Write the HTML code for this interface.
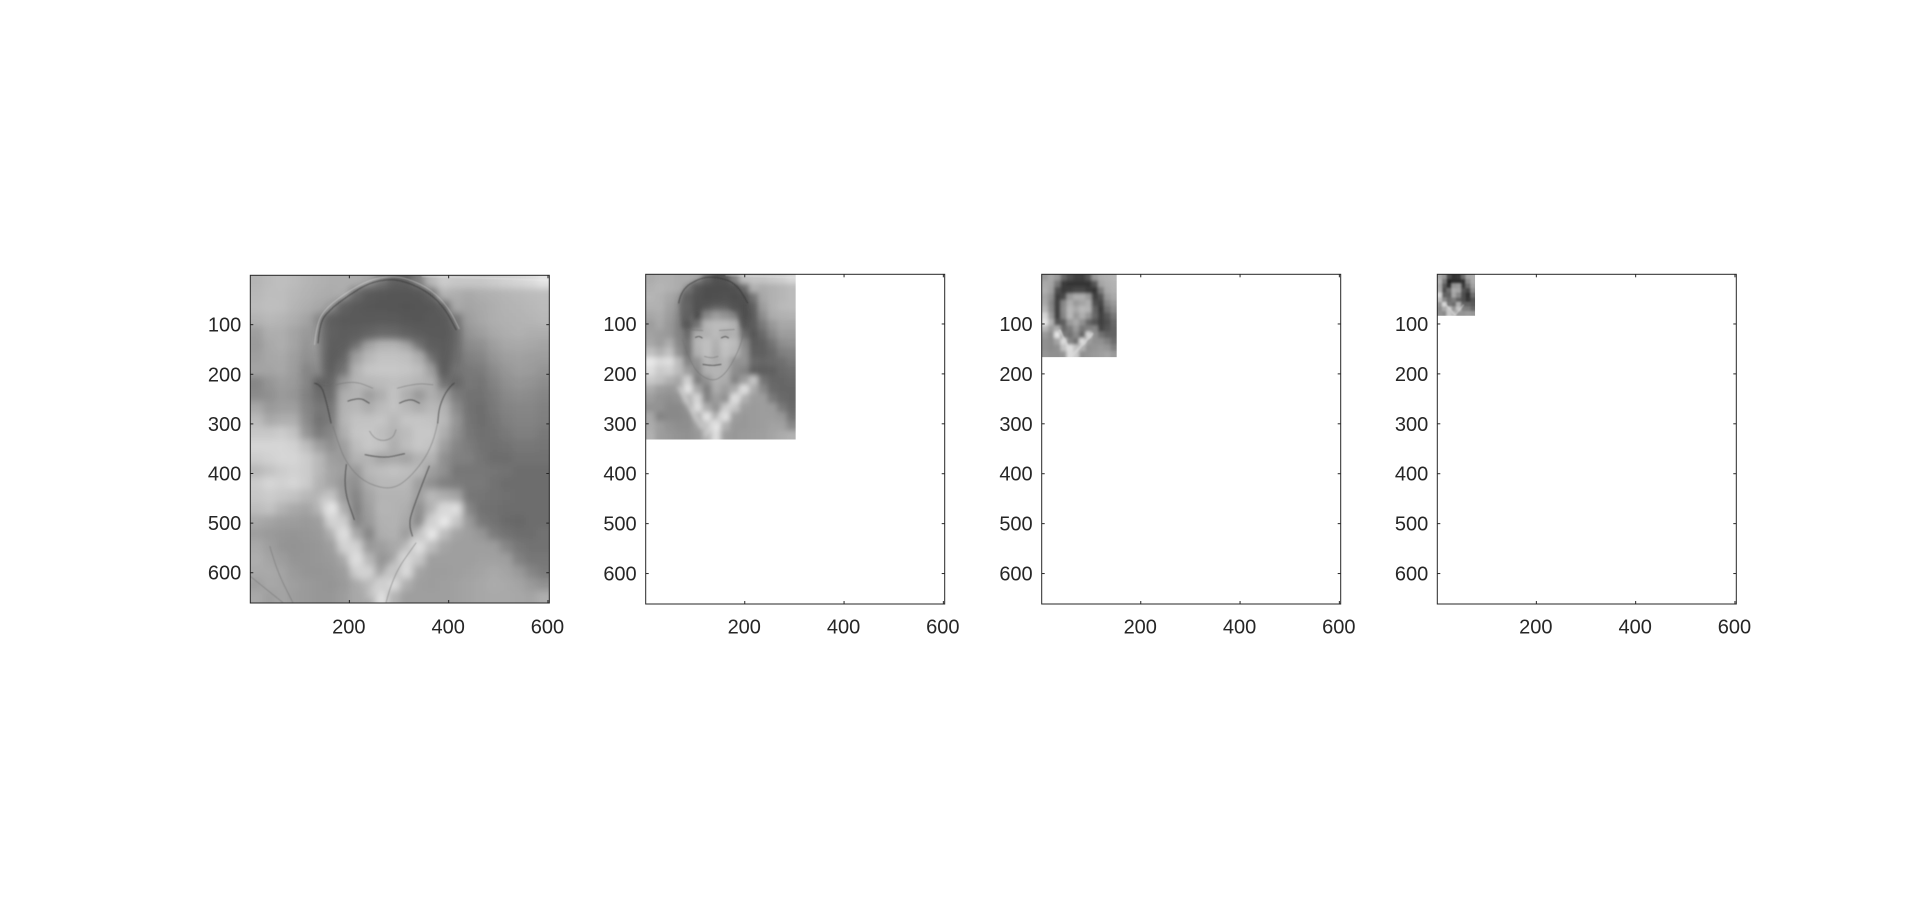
<!DOCTYPE html>
<html lang="en">
<head>
<meta charset="utf-8">
<title>Image pyramid levels</title>
<style>
html,body{margin:0;padding:0;background:#fff;width:1920px;height:911px;overflow:hidden}
svg{display:block}
text{font-family:"Liberation Sans",sans-serif;font-size:20px;fill:#262626}
</style>
</head>
<body>
<svg id="figure" width="1920" height="911" viewBox="0 0 1920 911" xmlns="http://www.w3.org/2000/svg"></svg>
<script>
// Axis tick values (shared by all panels)
const xTicks = [200, 400, 600];
const yTicks = [100, 200, 300, 400, 500, 600];
const xLimit = 602.7;
const yLimit = 661;
// Image size in data units for each pyramid level
const imageWidths = [603, 302, 151, 76];
const imageHeights = [661, 331, 166, 83];

// Gray levels (rows top to bottom)
const grayLevel1 = [
[172,178,182,178,172,168,165,165,165,160,130,95,90,120,175,195,190,190,190,195,200,205,210,220],
[175,180,180,175,170,165,162,165,115,85,80,78,78,80,100,170,165,160,165,168,172,175,178,180],
[178,182,180,172,165,158,150,100,85,80,78,75,72,75,80,95,160,155,160,165,170,172,175,178],
[170,175,172,165,155,130,95,88,85,85,88,85,80,78,82,85,110,150,158,165,168,170,172,175],
[150,165,165,155,145,140,100,92,95,105,118,115,100,90,85,85,100,140,150,160,165,168,165,165],
[145,160,165,155,140,150,95,95,115,155,170,172,160,125,95,90,100,130,135,150,158,160,158,155],
[150,158,160,150,135,140,90,95,150,175,185,185,182,165,120,90,100,120,125,140,150,152,150,148],
[155,155,158,148,125,130,90,105,170,188,190,190,188,180,150,90,105,112,115,130,142,148,146,140],
[125,140,150,145,125,90,95,145,172,175,178,182,178,172,165,105,95,110,108,122,135,140,138,132],
[130,135,145,140,120,100,100,165,170,150,165,185,165,145,165,150,115,105,105,115,128,132,130,125],
[160,145,150,150,125,110,110,170,175,165,178,185,175,165,175,170,130,105,100,112,122,125,125,120],
[178,160,165,165,130,105,115,172,185,185,188,175,188,188,185,175,140,108,100,108,118,122,122,118],
[190,190,195,185,140,115,125,165,188,190,180,170,178,190,190,165,135,110,102,105,112,118,118,112],
[205,205,205,200,180,150,135,150,180,190,185,165,180,190,185,150,125,115,105,102,105,110,110,108],
[195,200,205,205,195,175,150,145,170,170,155,160,155,170,170,135,120,118,108,100,100,105,105,105],
[175,185,195,200,195,175,155,150,145,175,180,185,180,175,150,135,110,110,110,108,105,100,100,100],
[195,205,200,205,195,170,155,140,135,165,175,175,175,150,135,120,115,112,112,105,100,100,100,100],
[190,195,190,185,175,170,185,145,125,155,170,170,170,150,175,165,155,110,108,105,102,100,100,100],
[180,185,170,160,155,170,225,165,120,150,172,170,165,135,170,205,215,125,105,102,100,100,100,100],
[160,155,150,148,145,150,195,195,125,145,168,170,160,130,190,225,190,145,112,105,98,95,100,100],
[150,145,142,140,142,145,165,215,160,125,165,168,150,165,225,180,155,150,140,115,105,100,100,105],
[160,150,140,138,140,142,150,195,200,145,150,160,165,215,180,155,150,150,150,148,125,110,105,105],
[165,155,148,140,140,142,145,160,215,175,140,150,205,190,150,150,150,150,152,152,150,120,110,110],
[160,160,155,145,140,140,142,148,190,200,150,175,210,155,148,148,150,152,155,160,155,145,125,115],
[150,158,155,150,145,142,140,145,160,175,190,210,165,150,148,150,152,155,158,162,160,155,145,135],
[160,150,155,148,145,142,142,148,160,155,215,170,150,150,150,150,152,155,158,160,160,158,155,165]
];
const grayLevel2 = [
[165,170,170,165,165,160,110,75,80,125,185,190,190,195,200,210],
[170,175,170,165,150,90,70,70,70,75,100,170,165,170,175,180],
[175,170,160,150,110,80,70,72,75,70,75,110,160,170,175,180],
[170,170,155,140,115,75,85,95,95,80,70,90,150,170,178,180],
[160,165,150,130,110,70,130,150,140,125,70,85,135,165,170,172],
[150,160,145,125,85,110,175,180,180,170,80,85,115,145,160,160],
[155,150,145,125,100,165,170,180,165,170,100,80,100,130,150,150],
[160,150,165,130,110,175,185,170,188,180,130,85,90,110,135,140],
[185,170,185,140,110,170,185,165,185,175,140,90,90,100,120,125],
[225,210,215,180,125,140,175,165,175,140,140,100,95,100,105,115],
[215,195,200,180,150,130,170,175,170,135,125,90,88,90,100,105],
[195,185,170,160,200,120,140,170,165,125,150,190,110,95,95,100],
[165,150,145,150,220,160,120,165,150,165,215,165,130,100,95,95],
[150,140,135,140,170,205,125,150,140,215,170,150,150,115,100,95],
[140,140,130,130,140,215,165,140,190,190,150,148,150,148,115,100],
[160,125,130,130,135,165,220,170,220,150,145,148,150,150,145,110],
[165,150,140,135,135,150,190,225,170,145,145,148,150,155,155,130],
[170,150,145,140,138,145,170,215,150,145,148,150,152,158,165,170]
];
const grayLevel3 = [
[150,165,150,100,75,60,60,85,150,170,175,180],
[165,160,115,55,50,50,50,50,80,160,170,175],
[170,155,75,55,60,70,70,55,50,120,165,172],
[160,140,60,70,150,170,170,150,60,80,150,165],
[165,130,60,130,170,150,160,170,75,65,130,150],
[180,135,60,135,180,165,180,175,95,55,110,135],
[210,150,60,130,180,150,170,145,100,60,85,115],
[225,175,80,90,150,165,140,100,80,60,75,100],
[180,150,170,100,120,150,115,125,130,65,80,95],
[150,135,225,120,110,135,100,210,140,110,95,95],
[140,135,160,215,130,110,215,155,140,140,125,105],
[140,135,140,190,220,190,175,140,145,150,145,125],
[145,140,140,145,215,200,140,145,150,155,160,150]
];
const grayLevel4 = [
[170,150,75,50,55,110,165,175],
[180,120,40,45,45,50,140,170],
[170,90,50,150,155,60,110,160],
[175,80,110,170,165,85,70,140],
[215,100,100,165,135,80,50,110],
[190,140,110,125,100,80,55,85],
[150,215,120,110,175,100,100,90],
[140,170,200,150,195,130,125,105],
[145,140,200,185,150,150,155,150]
];
const grayLevels = [grayLevel1, grayLevel2, grayLevel3, grayLevel4];

// Hair regions traced in image data coordinates
const hairRegion1 = [[137,137],[140,97],[160,70],[200,40],[240,16],[280,8],[314,13],[362,36],[394,70],[415,110],[411,143],[398,201],[389,218],[378,184],[361,160],[334,137],[294,127],[247,127],[207,140],[177,164],[160,197],[153,221],[143,184]];
const hairRegion2 = [[67,58],[72,31],[109,8],[142,5],[182,18],[206,58],[201,108],[192,108],[186,80],[165,62],[120,62],[92,80],[84,110],[72,108]];
const hairRegions = [hairRegion1, hairRegion2, [], []];

// Contours traced in image data coordinates, level 1
const darkLines1 = [
[[137,137],[140,97],[160,70],[200,40],[240,16],[280,8],[314,13],[362,36],[394,70],[415,110]],
[[130,218],[143,221],[153,252],[163,298]],
[[411,218],[398,228],[381,265],[378,298]],
[[194,382],[187,426],[210,493]],
[[361,385],[324,479],[321,506],[327,526]],
[[197,254],[220,246],[240,258]],
[[301,258],[321,248],[341,258]],
[[232,362],[267,370],[311,360]]
];
const softLines1 = [
[[167,305],[177,338],[194,379],[227,416],[274,432],[307,422],[347,379],[368,338],[378,298]],
[[173,221],[207,212],[247,228]],
[[297,228],[334,218],[368,221]],
[[241,315],[248,328],[268,335],[288,328],[294,312]],
[[40,547],[53,594],[86,660]],
[[0,607],[66,660]],
[[274,660],[287,607],[334,540]]
];
const brightLines1 = [
[[347,3],[480,6],[600,11]],
[[130,140],[134,97],[155,64],[198,33],[240,10],[282,2],[318,7],[366,30],[400,66],[421,108]]
];
// Wide pale collar bands, level by level
const collarBands1 = [[[147,453],[174,506],[227,607]], [[394,469],[334,533],[274,607],[240,647]]];
const collarBands2 = [[[69,228],[90,268],[112,305]], [[199,231],[160,275],[122,321]]];
const collarBands3 = [[[37,113],[48,137],[61,160]], [[102,120],[82,142],[61,164]]];
const collarBands4 = [[[18,62],[27,72],[36,82]], [[53,62],[45,72],[36,82]]];
const collarBandSets = [collarBands1, collarBands2, collarBands3, collarBands4];
// Contours traced in image data coordinates, level 2
const darkLines2 = [
[[67,58],[72,31],[109,8],[142,5],[182,18],[206,58]],
[[101,127],[107,124],[114,128]],
[[153,128],[160,124],[167,128]],
[[116,181],[134,184],[152,181]]
];
const softLines2 = [
[[75,131],[92,188],[132,217],[162,201],[189,151],[197,121]],
[[85,111],[115,113]],
[[149,113],[179,111]],
[[119,165],[132,169],[146,165]]
];
const brightLines2 = [
[[162,3],[300,7]]
];
const darkLineSets = [darkLines1, darkLines2, [], []];
const softLineSets = [softLines1, softLines2, [], []];
const brightLineSets = [brightLines1, brightLines2, [], []];

const panelLefts = [250.3, 645.7, 1041.7, 1437.3];
const panelTops = [275.3, 274.3, 274.3, 274.3];
const panelBottoms = [603, 604, 604, 604];
const panelWidth = 299;

const SVGNS = 'http://www.w3.org/2000/svg';
const figure = document.getElementById('figure');
function make(tag, attrs, parent) {
  const el = document.createElementNS(SVGNS, tag);
  for (const k in attrs) el.setAttribute(k, attrs[k]);
  parent.appendChild(el);
  return el;
}
const defs = make('defs', {}, figure);
const blurSizes = [3.6, 2.6, 1.7, 1.1];
const grayLifts = [9, 7, 4, 0];
const hairFills = ['#575757', '#505050', '#404040', '#383838'];
const bandWidths = [9, 5, 2.5, 1.4];

function curvePath(points, xScale, yScale) {
  const pts = points.map(p => [xScale(p[0]), yScale(p[1])]);
  let d = 'M' + pts[0][0].toFixed(1) + ' ' + pts[0][1].toFixed(1);
  for (let i = 1; i < pts.length - 1; i++) {
    const mx = (pts[i][0] + pts[i + 1][0]) / 2;
    const my = (pts[i][1] + pts[i + 1][1]) / 2;
    d += 'Q' + pts[i][0].toFixed(1) + ' ' + pts[i][1].toFixed(1) + ' ' + mx.toFixed(1) + ' ' + my.toFixed(1);
  }
  const last = pts[pts.length - 1];
  d += 'L' + last[0].toFixed(1) + ' ' + last[1].toFixed(1);
  return d;
}

grayLevels.forEach(function (matrix, p) {
  const left = panelLefts[p];
  const top = panelTops[p];
  const bottom = panelBottoms[p];
  const right = left + panelWidth;
  const xScale = v => left + (v - 0.5) * panelWidth / (xLimit - 0.5);
  const yScale = v => top + (v - 0.5) * (bottom - top) / (yLimit - 0.5);

  const axes = make('g', {}, figure);
  
  

  // Image heatmap
  const rows = matrix.length;
  const cols = matrix[0].length;
  const imgW = imageWidths[p];
  const imgH = imageHeights[p];
  const x0 = xScale(0.5);
  const y0 = yScale(0.5);
  const clipId = 'clip-' + p;
  const clip = make('clipPath', { id: clipId }, defs);
  make('rect', { x: x0, y: y0, width: xScale(0.5 + imgW) - x0, height: yScale(0.5 + imgH) - y0 }, clip);
  const blur = make('filter', { id: 'blur-' + p, x: '-10%', y: '-10%', width: '120%', height: '120%' }, defs);
  make('feGaussianBlur', { stdDeviation: blurSizes[p] }, blur);
  const fine = make('filter', { id: 'fine-' + p, x: '-10%', y: '-10%', width: '120%', height: '120%' }, defs);
  make('feGaussianBlur', { stdDeviation: p === 0 ? 0.6 : 0.45 }, fine);
  const mid = make('filter', { id: 'mid-' + p, x: '-20%', y: '-20%', width: '140%', height: '140%' }, defs);
  make('feGaussianBlur', { stdDeviation: p === 0 ? 4 : (p === 1 ? 2.2 : 0.9) }, mid);

  const clipped = make('g', { 'clip-path': 'url(#' + clipId + ')' }, axes);
  
  
  const cells = make('g', { filter: 'url(#blur-' + p + ')', 'shape-rendering': 'crispEdges' }, clipped);
  const cw = imgW / cols;
  const ch = imgH / rows;
  for (let r = -3; r < rows + 3; r++) {
    for (let c = -3; c < cols + 3; c++) {
      const g = Math.min(255, matrix[Math.min(rows - 1, Math.max(0, r))][Math.min(cols - 1, Math.max(0, c))] + grayLifts[p]);
      const cx = xScale(0.5 + c * cw);
      const cy = yScale(0.5 + r * ch);
      const cell = make('rect', {
        x: cx.toFixed(2), y: cy.toFixed(2),
        width: (xScale(0.5 + (c + 1) * cw) - cx + 0.6).toFixed(2),
        height: (yScale(0.5 + (r + 1) * ch) - cy + 0.6).toFixed(2),
        fill: 'rgb(' + g + ',' + g + ',' + g + ')'
      }, cells);
      
      
    }
  }

  // Soft regions: collar bands and hair
  const regions = make('g', { filter: 'url(#mid-' + p + ')', fill: 'none', 'stroke-linecap': 'round' }, clipped);
  collarBandSets[p].forEach(function (band) {
    const path = make('path', { d: curvePath(band, xScale, yScale), stroke: '#dadada', 'stroke-width': bandWidths[p], 'stroke-opacity': 0.55 }, regions);
    
    
  });
  if (hairRegions[p].length) {
    const hair = make('path', { d: curvePath(hairRegions[p], xScale, yScale) + 'Z', fill: hairFills[p], 'fill-opacity': 0.55 }, regions);
    
    
  }

  // Contours over the blurred cells
  const contours = make('g', { fill: 'none', 'stroke-linecap': 'round', 'stroke-linejoin': 'round', filter: 'url(#fine-' + p + ')' }, clipped);
  brightLineSets[p].forEach(function (line) {
    const path = make('path', { d: curvePath(line, xScale, yScale), stroke: '#f2f2f2', 'stroke-width': 1.2, 'stroke-opacity': 0.35 }, contours);
    
    
  });
  softLineSets[p].forEach(function (line) {
    const path = make('path', { d: curvePath(line, xScale, yScale), stroke: '#707070', 'stroke-width': 1, 'stroke-opacity': 0.5 }, contours);
    
    
  });
  darkLineSets[p].forEach(function (line) {
    const path = make('path', { d: curvePath(line, xScale, yScale), stroke: '#303030', 'stroke-width': 1.1, 'stroke-opacity': 0.6 }, contours);
    
    
  });

  // Axes box
  const box = make('rect', { x: left, y: top, width: panelWidth, height: bottom - top, fill: 'none', stroke: '#262626', 'stroke-width': 1 }, axes);
  
  

  // Ticks and labels
  xTicks.forEach(function (v) {
    const x = xScale(v);
    const tb = make('line', { x1: x, x2: x, y1: bottom, y2: bottom - 3, stroke: '#262626', 'stroke-width': 1 }, axes);
    
    
    const tt = make('line', { x1: x, x2: x, y1: top, y2: top + 3, stroke: '#262626', 'stroke-width': 1 }, axes);
    
    
    const label = make('text', { x: x - 0.5, y: 633.5, 'text-anchor': 'middle' }, axes);
    
    
    label.textContent = v;
  });
  yTicks.forEach(function (v) {
    const y = yScale(v);
    const tl = make('line', { x1: left, x2: left + 3, y1: y, y2: y, stroke: '#262626', 'stroke-width': 1 }, axes);
    
    
    const tr = make('line', { x1: right, x2: right - 3, y1: y, y2: y, stroke: '#262626', 'stroke-width': 1 }, axes);
    
    
    const label = make('text', { x: left - 9, y: y + 7, 'text-anchor': 'end' }, axes);
    
    
    label.textContent = v;
  });
});
</script>
</body>
</html>
